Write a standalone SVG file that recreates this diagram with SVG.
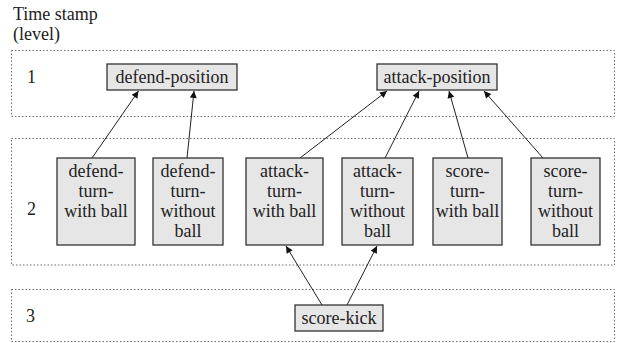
<svg xmlns="http://www.w3.org/2000/svg" width="622" height="343" viewBox="0 0 622 343">
<defs>
<style>
.zone{fill:none;stroke:#6a6a6a;stroke-width:1;stroke-dasharray:1.5 2}
.box{fill:#e6e6e6;stroke:#333;stroke-width:1.3}
.t{font-family:'Liberation Serif','Times New Roman',Times,serif;font-size:18px;fill:#222}
.c{text-anchor:middle}
.edge{stroke:#222;stroke-width:1;fill:none;marker-end:url(#ah)}
</style>
<marker id="ah" viewBox="0 0 10 10" refX="10" refY="5" markerWidth="9" markerHeight="7" markerUnits="userSpaceOnUse" orient="auto">
<path d="M0,0 L10,5 L0,10 z" fill="#111"/>
</marker>
</defs>
<rect width="622" height="343" fill="#fff"/>
<g id="levels">
<text class="t" x="13" y="20">Time stamp</text>
<text class="t" x="13" y="40">(level)</text>
<rect class="zone" x="11.5" y="50.5" width="603" height="66"/>
<rect class="zone" x="11.5" y="138.5" width="603" height="126.5"/>
<rect class="zone" x="11.5" y="289.5" width="603" height="52"/>
<text class="t" x="27" y="83">1</text>
<text class="t" x="27" y="215">2</text>
<text class="t" x="26" y="322">3</text>
</g>
<g id="edges">
<line class="edge" x1="92" y1="158" x2="138.5" y2="91"/>
<line class="edge" x1="187" y1="158" x2="194" y2="91"/>
<line class="edge" x1="300" y1="158" x2="387" y2="91"/>
<line class="edge" x1="385" y1="158" x2="419" y2="91"/>
<line class="edge" x1="468" y1="158" x2="449" y2="91"/>
<line class="edge" x1="543" y1="158" x2="484" y2="91"/>
<line class="edge" x1="322" y1="305" x2="286" y2="246"/>
<line class="edge" x1="347" y1="305" x2="377" y2="246"/>
</g>
<g id="defend-position">
<rect class="box" x="107" y="64" width="130" height="26"/>
<text class="t c" x="172" y="83">defend-position</text>
</g>
<g id="attack-position">
<rect class="box" x="377" y="64" width="120" height="26"/>
<text class="t c" x="437" y="83">attack-position</text>
</g>
<g id="defend-turn-with-ball">
<rect class="box" x="57" y="158" width="78" height="87"/>
<text class="t c" x="96" y="177">defend-</text>
<text class="t c" x="96" y="197">turn-</text>
<text class="t c" x="96" y="217">with ball</text>
</g>
<g id="defend-turn-without-ball">
<rect class="box" x="153" y="158" width="70" height="87"/>
<text class="t c" x="188" y="177">defend-</text>
<text class="t c" x="188" y="197">turn-</text>
<text class="t c" x="188" y="217">without</text>
<text class="t c" x="188" y="237">ball</text>
</g>
<g id="attack-turn-with-ball">
<rect class="box" x="246" y="158" width="77" height="87"/>
<text class="t c" x="284.5" y="177">attack-</text>
<text class="t c" x="284.5" y="197">turn-</text>
<text class="t c" x="284.5" y="217">with ball</text>
</g>
<g id="attack-turn-without-ball">
<rect class="box" x="342" y="158" width="71" height="87"/>
<text class="t c" x="377.5" y="177">attack-</text>
<text class="t c" x="377.5" y="197">turn-</text>
<text class="t c" x="377.5" y="217">without</text>
<text class="t c" x="377.5" y="237">ball</text>
</g>
<g id="score-turn-with-ball">
<rect class="box" x="433" y="158" width="69" height="87"/>
<text class="t c" x="467.5" y="177">score-</text>
<text class="t c" x="467.5" y="197">turn-</text>
<text class="t c" x="467.5" y="217">with ball</text>
</g>
<g id="score-turn-without-ball">
<rect class="box" x="531" y="158" width="69" height="87"/>
<text class="t c" x="565.5" y="177">score-</text>
<text class="t c" x="565.5" y="197">turn-</text>
<text class="t c" x="565.5" y="217">without</text>
<text class="t c" x="565.5" y="237">ball</text>
</g>
<g id="score-kick">
<rect class="box" x="295" y="305" width="88" height="26"/>
<text class="t c" x="339" y="324">score-kick</text>
</g>
</svg>
